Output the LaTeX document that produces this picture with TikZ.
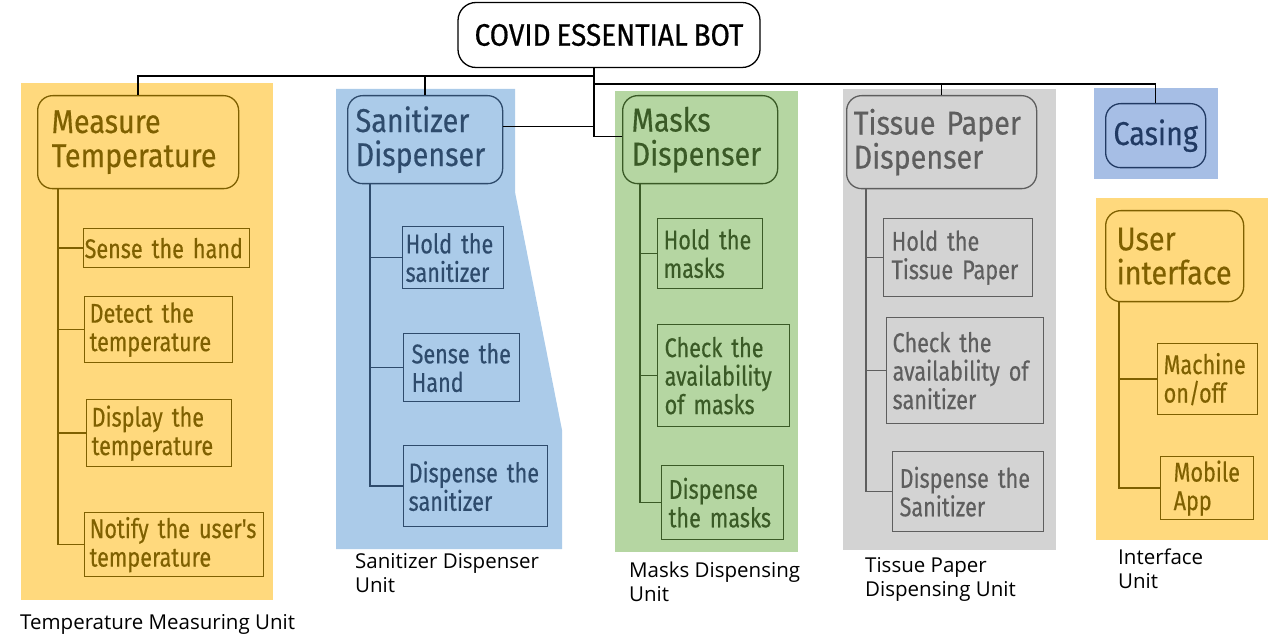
\documentclass[tikz,border=0pt]{standalone}
\usepackage{fontspec}
\newfontfamily\titlefont{Fira Sans}[FakeStretch=0.9, FakeBold=0.6, WordSpace=0.8]
\newfontfamily\blockfont{Fira Sans}[FakeStretch=0.87, FakeBold=0.4, WordSpace=0.8]
\newfontfamily\stepfont{Fira Sans}[FakeStretch=0.8, FakeBold=0.4, WordSpace=0.75]
\newfontfamily\capfont{Open Sans}

\definecolor{tempbg}{HTML}{FFD97D}
\definecolor{tempfg}{HTML}{7F6000}
\definecolor{sanbg}{HTML}{ABCBE9}
\definecolor{sanfg}{HTML}{2E4B6C}
\definecolor{maskbg}{HTML}{B5D6A2}
\definecolor{maskfg}{HTML}{3A5A26}
\definecolor{tisbg}{HTML}{D3D3D3}
\definecolor{tisfg}{HTML}{5E5E5E}
\definecolor{casbg}{HTML}{A6BEE5}
\definecolor{casfg}{HTML}{213A63}

\tikzset{
  titlebox/.style={draw=black, fill=white, rounded corners=18pt, line width=1.3pt,
    minimum width=302pt, minimum height=65pt, font=\titlefont\fontsize{31}{34}\selectfont},
  mainbox/.style={draw=#1, text=#1, rounded corners=15pt, line width=1.3pt,
    anchor=north west, align=left, font=\blockfont\fontsize{33}{34}\selectfont},
  subbox/.style={draw=#1, text=#1, line width=1.3pt, anchor=north west,
    align=left, inner ysep=0pt, font=\stepfont\fontsize{27}{28.5}\selectfont},
  link/.style={draw=#1, line width=1.5pt},
  caption/.style={anchor=north west, align=left, inner sep=0pt,
    font=\capfont\fontsize{20.5}{24}\selectfont}
}

\begin{document}
\begin{tikzpicture}[x=1pt, y=-1pt]
		\useasboundingbox (0,0) rectangle (1280,644);

		% unit backgrounds
		\fill[tempbg] (21,83) rectangle (273,600);
		\fill[sanbg] (336,89) -- (515,89) -- (515,192) -- (562,430) -- (562,549) -- (336,549) -- cycle;
		\fill[maskbg] (615,91) rectangle (798,552);
		\fill[tisbg] (843,89) rectangle (1056,550);
		\fill[casbg] (1094,88) rectangle (1218,179);
		\fill[tempbg] (1096,198) rectangle (1268,540);

		% title
		\node[titlebox] (bot) at (609,35) {COVID ESSENTIAL BOT};

		% main blocks
		\node[mainbox=tempfg, inner xsep=14pt, text width=173pt, minimum height=93pt] (meas) at (37,95) {Measure\\Temperature};
		\node[mainbox=sanfg, inner xsep=8pt, text width=139pt, minimum height=88pt] (san) at (347,95) {Sanitizer\\Dispenser};
		\node[mainbox=maskfg, inner xsep=9pt, text width=137pt, minimum height=88pt] (mask) at (622,95) {Masks\\Dispenser};
		\node[mainbox=tisfg, inner xsep=7pt, text width=176pt, minimum height=93pt] (tis) at (846,95) {Tissue Paper\\Dispenser};
		\node[mainbox=casfg, align=center, minimum width=100pt, minimum height=64pt] (cas) at (1105,103) {Casing};
		\node[mainbox=tempfg, inner xsep=11pt, text width=116pt, minimum height=91pt] (ui) at (1105,210) {User\\interface};

		% junctions
		\coordinate (j1) at (594,76);
		\coordinate (j2) at (594,84);

		% top links
		\draw[link=black] (meas.north) |- (j1);
		\draw[link=black] (san.north) -- (san.north |- j1);
		\draw[link=black] ([xshift=-15pt]bot.south) |- ([yshift=3pt]mask.west);
		\draw[link=black] ([yshift=13pt]san.east) -| (j1);
		\draw[link=black] (tis.north) -- (tis.north |- j2);
		\draw[link=black] (j2) -| (cas.north);

		% temperature
		\node[subbox=tempfg, inner xsep=1pt, text width=164pt, minimum height=39pt] (m1) at (83,228) {Sense the hand};
		\node[subbox=tempfg, inner xsep=5pt, text width=138pt, minimum height=66pt] (m2) at (84,296) {Detect the\\temperature};
		\node[subbox=tempfg, inner xsep=5pt, text width=135pt, minimum height=67pt] (m3) at (86,399) {Display the\\temperature};
		\node[subbox=tempfg, inner xsep=5pt, text width=169pt, minimum height=64pt] (m4) at (84,512) {Notify the user's\\temperature};
		\draw[link=tempfg] ([xshift=21pt]meas.south west) |- (m1.west);
		\draw[link=tempfg] ([xshift=21pt]meas.south west) |- (m2.west);
		\draw[link=tempfg] ([xshift=21pt]meas.south west) |- (m3.west);
		\draw[link=tempfg] ([xshift=21pt]meas.south west) |- (m4.west);

		% sanitizer
		\node[subbox=sanfg, inner xsep=3pt, text width=95pt, minimum height=62pt] (s1) at (402,226) {Hold the\\sanitizer};
		\node[subbox=sanfg, inner xsep=8pt, text width=100pt, minimum height=68pt] (s2) at (403,333) {Sense the\\Hand};
		\node[subbox=sanfg, inner xsep=5pt, text width=134pt, minimum height=81pt] (s3) at (403,445) {Dispense the\\sanitizer};
		\draw[link=sanfg] ([xshift=23pt]san.south west) |- (s1.west);
		\draw[link=sanfg] ([xshift=23pt]san.south west) |- (s2.west);
		\draw[link=sanfg] ([xshift=23pt]san.south west) |- (s3.west);

		% masks
		\node[subbox=maskfg, inner xsep=6pt, text width=93pt, minimum height=70pt] (k1) at (657,218) {Hold the\\masks};
		\node[subbox=maskfg, inner xsep=7pt, text width=118pt, minimum height=102pt] (k2) at (657,324) {Check the\\availability\\of masks};
		\node[subbox=maskfg, inner xsep=7pt, text width=108pt, minimum height=74pt] (k3) at (661,465) {Dispense\\the masks};
		\draw[link=maskfg] ([xshift=18pt]mask.south west) |- (k1.west);
		\draw[link=maskfg] ([xshift=18pt]mask.south west) |- (k2.west);
		\draw[link=maskfg] ([xshift=18pt]mask.south west) |- (k3.west);

		% tissue paper
		\node[subbox=tisfg, inner xsep=8pt, text width=133pt, minimum height=78pt] (t1) at (883,218) {Hold the\\Tissue Paper};
		\node[subbox=tisfg, inner xsep=6pt, text width=145pt, minimum height=106pt] (t2) at (886,317) {Check the\\availability of\\sanitizer};
		\node[subbox=tisfg, inner xsep=7pt, text width=137pt, minimum height=80pt] (t3) at (892,451) {Dispense the\\Sanitizer};
		\draw[link=tisfg] ([xshift=20pt]tis.south west) |- (t1.west);
		\draw[link=tisfg] ([xshift=20pt]tis.south west) |- (t2.west);
		\draw[link=tisfg] ([xshift=20pt]tis.south west) |- (t3.west);

		% interface
		\node[subbox=tempfg, inner xsep=6pt, text width=88pt, minimum height=71pt] (u1) at (1157,343) {Machine\\on/off};
		\node[subbox=tempfg, inner xsep=13pt, text width=67pt, minimum height=63pt] (u2) at (1160,456) {Mobile\\App};
		\draw[link=tempfg] ([xshift=14pt]ui.south west) |- (u1.west);
		\draw[link=tempfg] ([xshift=14pt]ui.south west) |- (u2.west);

		% unit names
		\node[caption] (tempcap) at (20,614) {Temperature Measuring Unit};
		\node[caption] (sancap) at (355,553) {Sanitizer Dispenser\\Unit};
		\node[caption] (maskcap) at (629,562) {Masks Dispensing\\Unit};
		\node[caption] (tiscap) at (865,557) {Tissue Paper\\Dispensing Unit};
		\node[caption] (uicap) at (1118,549) {Interface\\Unit};
\end{tikzpicture}
\end{document}
